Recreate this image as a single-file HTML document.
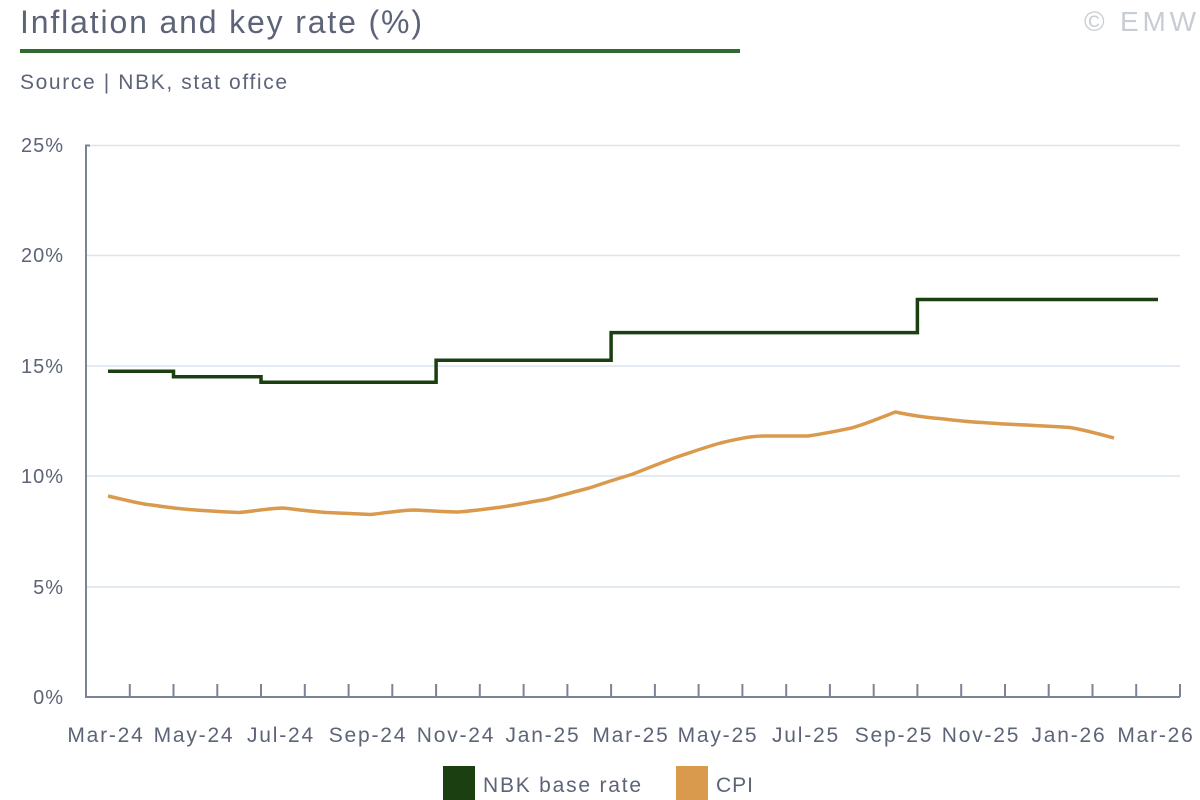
<!DOCTYPE html>
<html><head><meta charset="utf-8"><style>
html,body{margin:0;padding:0;background:#fff;}
svg{display:block;font-family:"Liberation Sans",sans-serif;}
</style></head><body>
<svg width="1200" height="800" viewBox="0 0 1200 800">
<text x="20" y="33" font-size="32" fill="#5d6478" textLength="402" lengthAdjust="spacing">Inflation and key rate (%)</text>
<text x="1196" y="31" font-size="28" fill="#c8ccd4" text-anchor="end" textLength="112" lengthAdjust="spacing">© EMW</text>
<rect x="20" y="49" width="720" height="4" fill="#2f6b2f"/>
<text x="20" y="89" font-size="21" fill="#5d6478" textLength="267" lengthAdjust="spacing">Source | NBK, stat office</text>
<g stroke="#dce4ee" stroke-width="1.5">
<line x1="86" x2="1180" y1="145.5" y2="145.5"/>
<line x1="86" x2="1180" y1="255.5" y2="255.5"/>
<line x1="86" x2="1180" y1="366" y2="366"/>
<line x1="86" x2="1180" y1="476" y2="476"/>
<line x1="86" x2="1180" y1="587" y2="587"/>
</g>
<g font-size="20" fill="#5d6478" text-anchor="end" letter-spacing="1">
<text x="64" y="152">25%</text><text x="64" y="262">20%</text><text x="64" y="373">15%</text>
<text x="64" y="483">10%</text><text x="64" y="594">5%</text><text x="64" y="704">0%</text>
</g>
<g stroke="#7a8499" stroke-width="2" fill="none">
<path d="M90 145.5H86V697H1180"/>
<path d="M129.8 684v13M173.5 684v13M217.3 684v13M261 684v13M304.8 684v13M348.6 684v13M392.3 684v13M436.1 684v13M479.8 684v13M523.6 684v13M567.4 684v13M611.1 684v13M654.9 684v13M698.6 684v13M742.4 684v13M786.2 684v13M829.9 684v13M873.7 684v13M917.4 684v13M961.2 684v13M1005 684v13M1048.7 684v13M1092.5 684v13M1136.2 684v13M1180 684v13"/>
</g>
<g font-size="21" fill="#5d6478" text-anchor="middle" letter-spacing="1.8">
<text x="106" y="742">Mar-24</text><text x="194" y="742">May-24</text><text x="281" y="742">Jul-24</text>
<text x="368" y="742">Sep-24</text><text x="456" y="742">Nov-24</text><text x="543" y="742">Jan-25</text>
<text x="631" y="742">Mar-25</text><text x="718" y="742">May-25</text><text x="806" y="742">Jul-25</text>
<text x="894" y="742">Sep-25</text><text x="981" y="742">Nov-25</text><text x="1069" y="742">Jan-26</text>
<text x="1156" y="742">Mar-26</text>
</g>
<path d="M108 371.3H173.5V376.8H261V382.3H436.1V360.2H611.1V332.6H917.4V299.5H1158" stroke="#1b3f10" stroke-width="3.5" fill="none"/>
<path d="M108 496C130 501 140 504 151.8 505C165 507 180 509 195.5 510C210 511 225 512 239.3 512.5C255 511 268 508.5 283 508C297 509.5 312 511.5 326.8 512.5C341 513 355 514 370.5 514.5C385 513 398 510.5 414.3 510C429 510.5 443 512 458 512C472 511 486 509 501.8 507C516 505 530 502 545.5 499.5C560 496 575 491.5 589.3 488C604 483 618 478.5 633 474C648 468 662 462.5 676.8 457C692 452 706 447 720.5 443C735 439.5 750 436 764.3 436H808C823 434 837 431 851.5 428C866 424 880 418 895.3 412C910 415 924 417.5 939 418.5C953 420 968 422 982.8 422.5C997 423.5 1011 424.5 1026.5 425C1041 426 1055 426.5 1070 427.5C1085 430 1099 434 1114 438" stroke="#d99a4e" stroke-width="3.5" fill="none"/>
<rect x="443" y="766" width="32" height="34" fill="#1b3f10"/>
<text x="483" y="792" font-size="21" fill="#5d6478" textLength="158" lengthAdjust="spacing">NBK base rate</text>
<rect x="676" y="766" width="32" height="34" fill="#d99a4e"/>
<text x="716" y="792" font-size="21" fill="#5d6478" textLength="37" lengthAdjust="spacing">CPI</text>
</svg>
</body></html>
